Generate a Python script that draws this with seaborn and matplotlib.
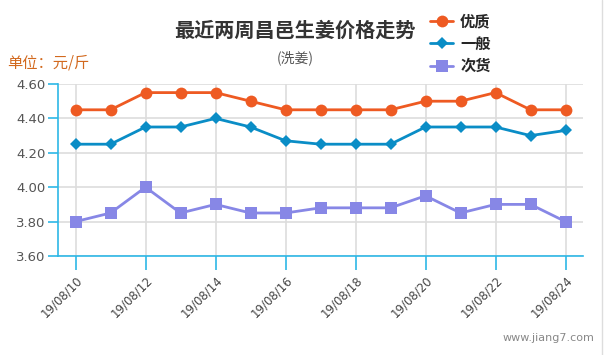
import numpy as np
import pandas as pd
import seaborn as sns
import matplotlib.pyplot as plt

# data
dates = ['19/08/%02d' % d for d in range(10, 25)]
youzhi = [4.45, 4.45, 4.55, 4.55, 4.55, 4.50, 4.45, 4.45, 4.45, 4.45, 4.50, 4.50, 4.55, 4.45, 4.45]
yiban = [4.25, 4.25, 4.35, 4.35, 4.40, 4.35, 4.27, 4.25, 4.25, 4.25, 4.35, 4.35, 4.35, 4.30, 4.33]
cihuo = [3.80, 3.85, 4.00, 3.85, 3.90, 3.85, 3.85, 3.88, 3.88, 3.88, 3.95, 3.85, 3.90, 3.90, 3.80]
series = ['优质', '一般', '次货']
yticks = [3.60, 3.80, 4.00, 4.20, 4.40, 4.60]

sns.set_style('white')
plt.rcParams['font.family'] = ['Noto Sans CJK SC', 'DejaVu Sans']

df = pd.DataFrame({'idx': np.arange(len(dates)), '优质': youzhi, '一般': yiban, '次货': cihuo})
df = df.melt(id_vars='idx', var_name='grade', value_name='price')

colors = {'优质': '#EE5A22', '一般': '#0A8DC6', '次货': '#8787E6'}
markers = {'优质': 'o', '一般': 'D', '次货': 's'}
msizes = {'优质': 8.5, '一般': 6.5, '次货': 8.5}

fig = plt.figure(figsize=(6.07, 3.55), dpi=100)
ax = fig.add_axes([58 / 607, 1 - 256 / 355, (583 - 58) / 607, (256 - 84) / 355])

for g in series:
    sns.lineplot(data=df[df.grade == g], x='idx', y='price', ax=ax, color=colors[g],
                 marker=markers[g], markersize=msizes[g], markeredgewidth=0,
                 linewidth=2, label=g, legend=False, zorder=3)

ax.set_xlim(-0.5, len(dates) - 0.5)
ax.set_ylim(3.6, 4.6)
ax.set_yticks(yticks)
ax.set_yticklabels(['%.2f' % v for v in yticks], color='#555555', fontsize=9.5,
                   family=['DejaVu Sans'])
xt = np.arange(0, len(dates), 2)
ax.set_xticks(xt)
ax.set_xticklabels([dates[i] for i in xt], rotation=45, ha='right', rotation_mode='anchor',
                   color='#444444', fontsize=8.5, family=['DejaVu Sans'])
ax.set_xlabel('')
ax.set_ylabel('')

ax.grid(True, color='#DDDDDD', linewidth=1.2, zorder=0)
ax.set_axisbelow(True)
for s in ['top', 'right']:
    ax.spines[s].set_visible(False)
for s in ['left', 'bottom']:
    ax.spines[s].set_color('#2DB7E6')
    ax.spines[s].set_linewidth(1.2)
ax.tick_params(axis='y', length=7, width=1.2, color='#2DB7E6', direction='out', pad=2, left=True)
ax.tick_params(axis='x', length=10, width=1.2, color='#2DB7E6', direction='out', pad=3, bottom=True)

fig.text(0.486, 0.915, '最近两周昌邑生姜价格走势', ha='center', va='center',
         fontsize=14.5, fontweight='bold', color='#333333')
fig.text(0.486, 0.836, '(洗姜)', ha='center', va='center', fontsize=10, color='#555555')
fig.text(0.012, 0.823, '单位：元/斤', ha='left', va='center', fontsize=11, color='#D2691E')
fig.text(0.98, 0.048, 'www.jiang7.com', ha='right', va='center', fontsize=8, color='#888888',
         family=['DejaVu Sans'])

handles, labels = ax.get_legend_handles_labels()
fig.legend(handles, labels, loc='upper left', bbox_to_anchor=(0.709, 0.963), frameon=False,
           borderpad=0, borderaxespad=0, handlelength=1.5, handletextpad=0.45,
           labelspacing=0.42, prop={'weight': 'bold', 'size': 11})

fig.add_artist(plt.Line2D([0.992, 0.992], [0, 1], color='#DDDDDD', linewidth=1))

fig.savefig('out.png', dpi=100)
